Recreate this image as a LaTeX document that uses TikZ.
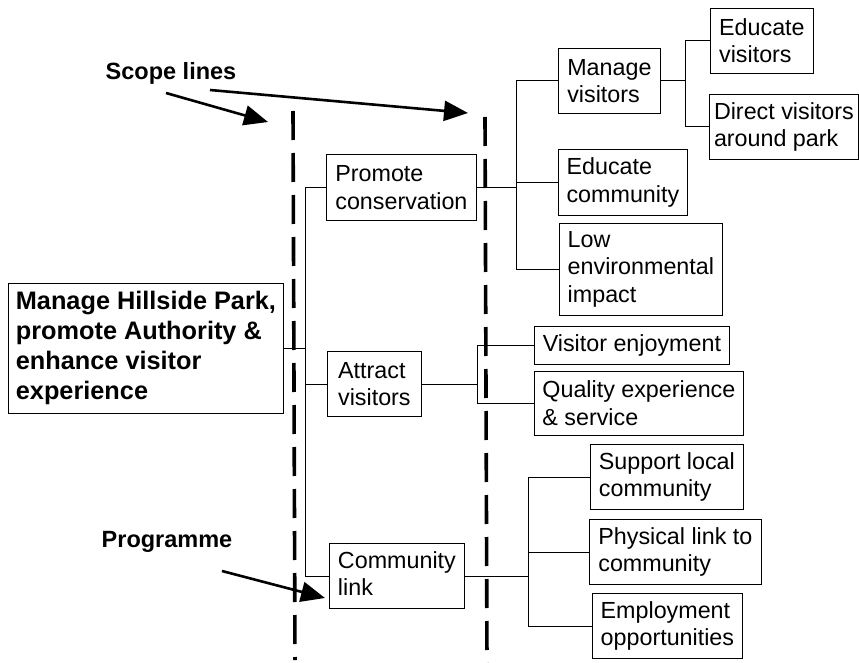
\documentclass[tikz,border=0pt]{standalone}
\usepackage{fontspec}
\setmainfont{Liberation Sans}
\usetikzlibrary{arrows.meta}
\tikzset{
  box/.style={draw, line width=0.8pt, inner sep=0pt, align=left, anchor=north west,
    font=\fontsize{23.3}{27.5}\selectfont},
  mainbox/.style={draw, line width=0.9pt, inner sep=0pt, align=left, anchor=north west,
    font=\bfseries\fontsize{25.3}{30}\selectfont},
  lbl/.style={font=\bfseries\fontsize{23.5}{27}\selectfont, inner sep=0pt},
  wire/.style={line width=0.8pt},
  scopeline/.style={line width=3.6pt, dash pattern=on 29pt off 13pt},
  bigarrow/.style={line width=2.6pt, -{Triangle[length=24pt,width=20pt]}}
}
\begin{document}
\begin{tikzpicture}[x=1pt,y=-1pt]
\useasboundingbox (0,0) rectangle (859,663);
% main box
\node[mainbox, minimum width=275pt, minimum height=130pt] (main) at (8,283)
  {Manage Hillside Park,\\promote Authority \&\\enhance visitor\\experience};
% level 1
\node[box, minimum width=150pt, minimum height=66pt] (pc) at (326,154) {Promote\\conservation};
\node[box, minimum width=94pt, minimum height=65pt] (av) at (327,351) {Attract\\visitors};
\node[box, minimum width=135pt, minimum height=65pt] (cl) at (329,543) {Community\\link\phantom{y}};
% level 2
\node[box, minimum width=102pt, minimum height=65pt] (mv) at (558,48) {Manage\\visitors};
\node[box, minimum width=129pt, minimum height=66pt] (ec) at (558,149) {Educate\\community};
\node[box, minimum width=163pt, minimum height=92pt] (le) at (559,223) {Low\\environmental\\impact};
\node[box, minimum width=195pt, minimum height=38pt] (ve) at (534,326) {Visitor enjoyment};
\node[box, minimum width=209pt, minimum height=64pt] (qe) at (534,371) {Quality experience\\\& service};
\node[box, minimum width=153pt, minimum height=65pt] (sl) at (590,444) {Support local\\community};
\node[box, minimum width=172pt, minimum height=65pt] (pl) at (589,519) {Physical link to\\community};
\node[box, minimum width=150pt, minimum height=65pt] (eo) at (592,593) {Employment\\opportunities};
% level 3
\node[box, minimum width=103pt, minimum height=65pt] (ev) at (710,8) {Educate\\visitors};
\node[box, minimum width=149pt, minimum height=65pt] (dv) at (709,94) {Direct visitors\\around park};
% junction coordinates
\coordinate (T) at (305,348);
\coordinate (P) at (516,187);
\coordinate (M) at (685,80);
\coordinate (A) at (477,383);
\coordinate (C) at (528,575);
% connectors
\draw[wire] (main.east) -- (main.east -| T);
\draw[wire] (pc.west) -- (pc.west -| T) -- (cl.west -| T) -- (cl.west);
\draw[wire] (av.west) -- (av.west -| T);
\draw[wire] (pc.east) -- (pc.east -| P);
\draw[wire] (mv.west) -- (mv.west -| P) -- (le.west -| P) -- (le.west);
\draw[wire] (ec.west) -- (ec.west -| P);
\draw[wire] (mv.east) -- (mv.east -| M);
\draw[wire] (ev.west) -- (ev.west -| M) -- (dv.west -| M) -- (dv.west);
\draw[wire] (av.east) -- (av.east -| A);
\draw[wire] (ve.west) -- (ve.west -| A) -- (qe.west -| A) -- (qe.west);
\draw[wire] (cl.east) -- (cl.east -| C);
\draw[wire] (sl.west) -- (sl.west -| C) -- (eo.west -| C) -- (eo.west);
\draw[wire] (pl.west) -- (pl.west -| C);
% scope lines
\coordinate (s1a) at (293,111);
\coordinate (s1b) at (295,660);
\coordinate (s2a) at (485,117);
\coordinate (s2b) at (487,663);
\draw[scopeline] (s1a) -- (s1b);
\draw[scopeline] (s2a) -- (s2b);
% labels and arrows
\node[lbl] (scope) at (171,73) {Scope lines};
\node[lbl] (prog) at (167,542) {Programme};
\coordinate (a1s) at (166,93);
\coordinate (a1e) at (268,122);
\coordinate (a2s) at (210,90);
\coordinate (a2e) at (468,113);
\coordinate (a3s) at (222,571);
\coordinate (a3e) at (325,598);
\draw[bigarrow] (a1s) -- (a1e);
\draw[bigarrow] (a2s) -- (a2e);
\draw[bigarrow] (a3s) -- (a3e);
\end{tikzpicture}
\end{document}
